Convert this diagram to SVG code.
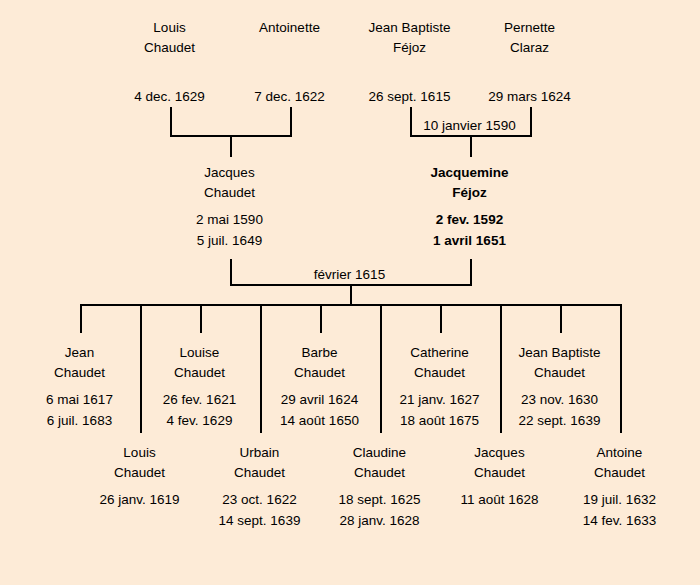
<svg xmlns="http://www.w3.org/2000/svg" width="700" height="585" viewBox="0 0 700 585">
<style>
text{font-family:"Comic Sans MS","Liberation Sans",Arial,sans-serif;font-size:13.5px;fill:#000;text-anchor:middle}
.b{font-weight:bold}
.ln{stroke:#000;stroke-width:2;fill:none;stroke-linecap:square}
</style>
<rect width="700" height="585" fill="#fdebd7"/>
<g id="connectors">
<path class="ln" d="M171,108V136H291V108M231,136V156"/>
<path class="ln" d="M411,108V136H531V108M471,136V156"/>
<path class="ln" d="M231,260V285H471V260M351,285V305"/>
<path class="ln" d="M81,305H621"/>
<path class="ln" d="M81,305V332M201,305V332M321,305V332M441,305V332M561,305V332"/>
<path class="ln" d="M141,305V432M261,305V432M381,305V432M501,305V432M621,305V432"/>
</g>
<g transform="translate(-1.5,0)">
<text x="471" y="130">10 janvier 1590</text>
<text x="351" y="279">février 1615</text>
<g id="louis-chaudet-sr"><text x="171" y="32">Louis</text><text x="171" y="52">Chaudet</text><text x="171" y="101">4 dec. 1629</text></g>
<g id="antoinette"><text x="291" y="32">Antoinette</text><text x="291" y="101">7 dec. 1622</text></g>
<g id="jean-baptiste-fejoz"><text x="411" y="32">Jean Baptiste</text><text x="411" y="52">Féjoz</text><text x="411" y="101">26 sept. 1615</text></g>
<g id="pernette-claraz"><text x="531" y="32">Pernette</text><text x="531" y="52">Claraz</text><text x="531" y="101">29 mars 1624</text></g>
<g id="jacques-chaudet"><text x="231" y="177">Jacques</text><text x="231" y="197">Chaudet</text><text x="231" y="224">2 mai 1590</text><text x="231" y="245">5 juil. 1649</text></g>
<g id="jacquemine-fejoz"><text class="b" x="471" y="177">Jacquemine</text><text class="b" x="471" y="197">Féjoz</text><text class="b" x="471" y="224">2 fev. 1592</text><text class="b" x="471" y="245">1 avril 1651</text></g>
<g id="jean-chaudet"><text x="81" y="357">Jean</text><text x="81" y="377">Chaudet</text><text x="81" y="404">6 mai 1617</text><text x="81" y="425">6 juil. 1683</text></g>
<g id="louise-chaudet"><text x="201" y="357">Louise</text><text x="201" y="377">Chaudet</text><text x="201" y="404">26 fev. 1621</text><text x="201" y="425">4 fev. 1629</text></g>
<g id="barbe-chaudet"><text x="321" y="357">Barbe</text><text x="321" y="377">Chaudet</text><text x="321" y="404">29 avril 1624</text><text x="321" y="425">14 août 1650</text></g>
<g id="catherine-chaudet"><text x="441" y="357">Catherine</text><text x="441" y="377">Chaudet</text><text x="441" y="404">21 janv. 1627</text><text x="441" y="425">18 août 1675</text></g>
<g id="jean-baptiste-chaudet"><text x="561" y="357">Jean Baptiste</text><text x="561" y="377">Chaudet</text><text x="561" y="404">23 nov. 1630</text><text x="561" y="425">22 sept. 1639</text></g>
<g id="louis-chaudet"><text x="141" y="457">Louis</text><text x="141" y="477">Chaudet</text><text x="141" y="504">26 janv. 1619</text></g>
<g id="urbain-chaudet"><text x="261" y="457">Urbain</text><text x="261" y="477">Chaudet</text><text x="261" y="504">23 oct. 1622</text><text x="261" y="525">14 sept. 1639</text></g>
<g id="claudine-chaudet"><text x="381" y="457">Claudine</text><text x="381" y="477">Chaudet</text><text x="381" y="504">18 sept. 1625</text><text x="381" y="525">28 janv. 1628</text></g>
<g id="jacques-chaudet-jr"><text x="501" y="457">Jacques</text><text x="501" y="477">Chaudet</text><text x="501" y="504">11 août 1628</text></g>
<g id="antoine-chaudet"><text x="621" y="457">Antoine</text><text x="621" y="477">Chaudet</text><text x="621" y="504">19 juil. 1632</text><text x="621" y="525">14 fev. 1633</text></g>
</g>
</svg>
